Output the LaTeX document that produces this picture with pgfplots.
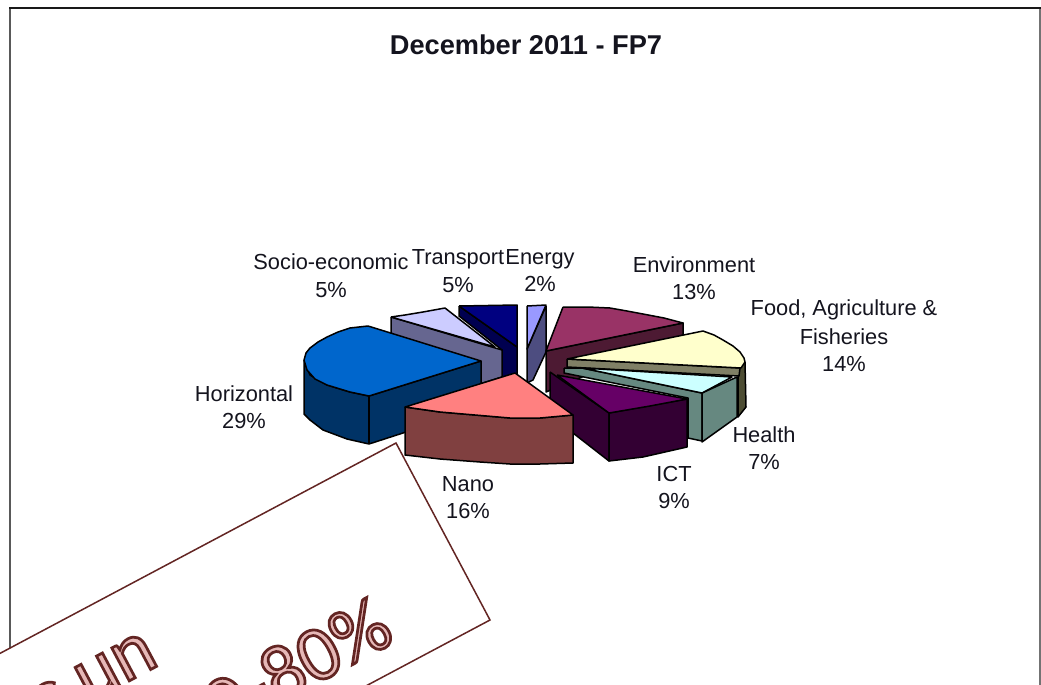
\documentclass[border=0pt]{standalone}
\usepackage{pgfplots}
\pgfplotsset{compat=1.18}
\usepackage{fontspec}
\setmainfont{Liberation Sans}
\newfontfamily\bigdark[FakeBold=3.5]{Carlito}
\definecolor{txt}{HTML}{14141E}
\definecolor{brd}{HTML}{632523}
\definecolor{pk}{HTML}{E6B8B7}
\definecolor{c1}{HTML}{000050}\definecolor{c2}{HTML}{000080}
\definecolor{c3}{HTML}{666690}\definecolor{c4}{HTML}{CCCCFF}
\definecolor{c5}{HTML}{003366}\definecolor{c6}{HTML}{0066CC}
\definecolor{c7}{HTML}{4D4D80}\definecolor{c8}{HTML}{9999FF}
\definecolor{c9}{HTML}{4D1A33}\definecolor{c10}{HTML}{993366}
\definecolor{c11}{HTML}{4D4D33}\definecolor{c12}{HTML}{808066}\definecolor{c13}{HTML}{FFFFCC}
\definecolor{c14}{HTML}{668880}\definecolor{c15}{HTML}{CCFFFF}
\definecolor{c16}{HTML}{330033}\definecolor{c17}{HTML}{660066}
\definecolor{c18}{HTML}{804040}\definecolor{c19}{HTML}{FF8080}
\tikzset{
  sl/.style={fill=#1,draw=black,line width=1.5pt,line join=round,mark=none},
  lab/.style={anchor=base,align=center,text=txt,font=\fontsize{21.8}{24}\selectfont,inner sep=0pt}
}
\newcommand\outl[1]{{\color{pk}\special{pdf:code 0.388 0.145 0.137 RG}\fontsize{78}{82}\bigdark #1}}
\begin{document}
\begin{tikzpicture}
\begin{axis}[
  scale only axis,width=1041pt,height=685pt,
  xmin=0,xmax=1041,ymin=0,ymax=685,y dir=reverse,
  axis lines=none,clip=true]
% page extent
\addplot[fill=white,draw=none,mark=none] coordinates {(0,0)(1041,0)(1041,685)(0,685)(0,0)};
% frame
\addplot[draw=black!65,line width=2.4pt,mark=none] coordinates {(10,690)(10,8)};
\addplot[draw=black!55,line width=2.4pt,mark=none] coordinates {(1040,8)(1040,690)};
\addplot[draw=black!90,line width=2.6pt,mark=none] coordinates {(9,8)(1041,8)};
% Transport
\addplot[sl=c1] coordinates {(459,306)(517,347)(517,378)(502,380)(502,350)(459,316)(459,306)};
\addplot[sl=c2] coordinates {(459,306)(517,305)(517,347)(459,306)};
% Socio-economic
\addplot[sl=c3] coordinates {(391,317)(502,350)(502,377)(480,384)(391,333)(391,317)};
\addplot[sl=c4] coordinates {(391,317)(405,315)(423,312)(445,308)(495,347)(391,317)};
% Horizontal
\addplot[sl=c5] coordinates {(304,360)(304,414)(310,420)(323,430)(347,439)(369,444)(403,433)(481,405)(481,361)(369,396)(350,392)(327,385)(310,375)(304,360)};
\addplot[sl=c6] coordinates {(481,361)(369,396)(350,392)(327,385)(315,379)(307,370)(304,360)(306,353)(310,348)(318,342)(327,337)(338,332)(350,328)(359,327)(368,326)(481,361)};
\addplot[draw=black,line width=1.5pt,mark=none] coordinates {(369,396)(369,444)};
% Energy
\addplot[sl=c7] coordinates {(546,306)(527,349)(527,383)(533,380)(546,352)(546,306)};
\addplot[sl=c8] coordinates {(527,306)(546,305)(527,349)(527,306)};
% Environment
\addplot[sl=c9] coordinates {(546,351)(683,323)(683,335)(546,392)(546,351)};
\addplot[sl=c10] coordinates {(563,307)(588,307)(610,308)(627,311)(643,314)(664,318)(683,323)(546,351)(563,307)};
% Food
\addplot[sl=c11] coordinates {(745,362)(746,407)(738,417)(738,368)(745,362)};
\addplot[sl=c12] coordinates {(567,359)(740,368)(739,376)(567,367)(567,359)};
\addplot[sl=c13] coordinates {(567,359)(703,331)(714,335)(723,340)(733,346)(740,352)(744,358)(745,362)(741,368)(567,359)};
% Health
\addplot[sl=c14] coordinates {(564,368)(582,368)(702,393)(702,441)(688,438)(688,398)(564,373)(564,368)};
\addplot[sl=c14] coordinates {(702,393)(737,377)(737,417)(702,442)(702,393)};
\addplot[sl=c15] coordinates {(582,368)(732,377)(702,393)(582,368)};
% ICT
\addplot[sl=c16] coordinates {(550,372)(609,413)(609,461)(573,433)(550,415)(550,372)};
\addplot[sl=c16] coordinates {(609,413)(687,399)(687,447)(665,452)(643,457)(609,461)(609,413)};
\addplot[sl=c17] coordinates {(557,375)(687,399)(650,406)(609,413)(557,375)};
% Nano
\addplot[sl=c18] coordinates {(405,407)(405,455)(440,459)(480,462)(510,464)(540,464)(573,463)(573,415)(540,418)(510,418)(475,415)(440,412)(405,407)};
\addplot[sl=c19] coordinates {(515,373)(573,415)(540,418)(510,418)(475,415)(440,412)(405,407)(515,373)};
% labels
\node[lab,font=\bfseries\fontsize{27.2}{30}\selectfont] at (axis cs:526,55) {December 2011 - FP7};
\node[lab] at (axis cs:331,269) {Socio-economic};
\node[lab] at (axis cs:331,297) {5\%};
\node[lab] at (axis cs:458,264) {Transport};
\node[lab] at (axis cs:458,292) {5\%};
\node[lab] at (axis cs:540,264) {Energy};
\node[lab] at (axis cs:540,291) {2\%};
\node[lab] at (axis cs:694,272) {Environment};
\node[lab] at (axis cs:694,299) {13\%};
\node[lab] at (axis cs:844,315) {Food, Agriculture \&};
\node[lab] at (axis cs:844,344) {Fisheries};
\node[lab] at (axis cs:844,371) {14\%};
\node[lab] at (axis cs:244,401) {Horizontal};
\node[lab] at (axis cs:244,428) {29\%};
\node[lab] at (axis cs:764,442) {Health};
\node[lab] at (axis cs:764,469) {7\%};
\node[lab] at (axis cs:674,481) {ICT};
\node[lab] at (axis cs:674,508) {9\%};
\node[lab] at (axis cs:468,491) {Nano};
\node[lab] at (axis cs:468,518) {16\%};
% overlay box
\addplot[fill=white,draw=brd,line width=1.5pt,mark=none] coordinates {(-20,664)(396,443)(490,620)(300,721)(-20,721)(-20,664)};
\node[anchor=base east,rotate=28,inner sep=0pt] at (axis cs:397,641) {\outl{70-80\%}};
\node[anchor=base east,rotate=28,inner sep=0pt] at (axis cs:161,664) {\outl{s un}};
\end{axis}
\end{tikzpicture}
\end{document}
